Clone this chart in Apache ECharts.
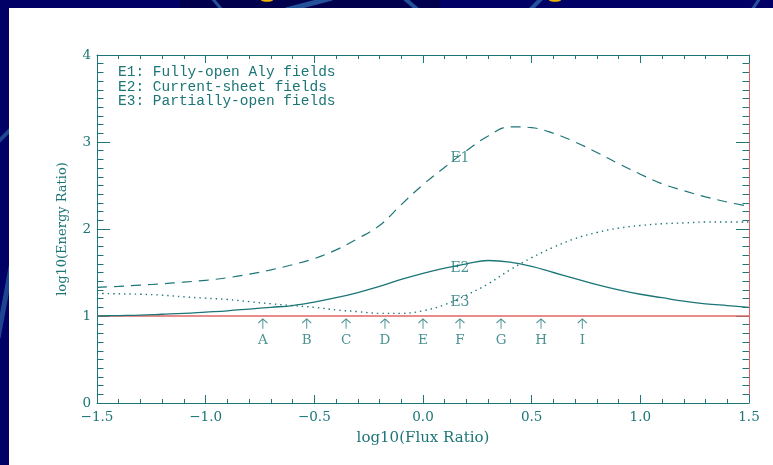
<!DOCTYPE html>
<html>
<head>
<meta charset="utf-8">
<script src="https://cdn.jsdelivr.net/npm/echarts@6/dist/echarts.min.js"></script>
<style>
  html, body { margin: 0; padding: 0; background: #000066; }
  #chart { width: 773px; height: 465px; }
</style>
</head>
<body>
<div id="chart"></div>
<script>
// log10(Flux Ratio) sample points
const fluxLog = [-1.5, -1.4, -1.3, -1.2, -1.1, -1.0, -0.9, -0.8, -0.7, -0.6, -0.5, -0.4, -0.3, -0.2, -0.1,
                 0.0, 0.1, 0.2, 0.3, 0.4, 0.5, 0.6, 0.7, 0.8, 0.9, 1.0, 1.1, 1.2, 1.3, 1.4, 1.5];

// log10(Energy Ratio) for the three field configurations
const energyE1 = [1.33, 1.34, 1.355, 1.37, 1.39, 1.41, 1.44, 1.48, 1.53, 1.59, 1.66, 1.76, 1.89, 2.04, 2.28,
                  2.51, 2.71, 2.90, 3.07, 3.175, 3.165, 3.10, 3.00, 2.88, 2.75, 2.63, 2.52, 2.44, 2.37, 2.31, 2.26];
const energyE2 = [1.00, 1.005, 1.01, 1.02, 1.03, 1.045, 1.06, 1.08, 1.10, 1.12, 1.16, 1.21, 1.27, 1.34, 1.42,
                  1.49, 1.55, 1.60, 1.638, 1.62, 1.57, 1.50, 1.43, 1.36, 1.30, 1.25, 1.21, 1.17, 1.14, 1.12, 1.10];
const energyE3 = [1.26, 1.255, 1.25, 1.24, 1.22, 1.205, 1.19, 1.165, 1.14, 1.12, 1.10, 1.07, 1.05, 1.03, 1.03,
                  1.06, 1.13, 1.24, 1.37, 1.53, 1.67, 1.79, 1.89, 1.96, 2.01, 2.04, 2.06, 2.07, 2.08, 2.08, 2.08];

// reference level log10(Energy Ratio) = 1
const unityLevel = 1;

// curve tags placed beside each curve
const curveTags = ['E1', 'E2', 'E3'];
const curveTagX = [0.17, 0.17, 0.17];
const curveTagY = [2.81, 1.55, 1.16];

// marked flux ratios A..I
const markLetters = ['A', 'B', 'C', 'D', 'E', 'F', 'G', 'H', 'I'];
const markX = [-0.737, -0.535, -0.354, -0.175, 0.0, 0.17, 0.359, 0.543, 0.733];
const arrowY = 0.91;
const letterY = 0.72;

// legend text
const legendLines = ['E1: Fully-open Aly fields', 'E2: Current-sheet fields', 'E3: Partially-open fields'];

// axis ranges and ticks
const xMin = -1.5, xMax = 1.5, xStep = 0.5;
const yMin = 0, yMax = 4, yStep = 1;

const TEAL = '#1c7577';
const RED = '#e06464';
const SERIF = 'DejaVu Serif';

const pairs = ys => fluxLog.map((x, i) => [x, ys[i]]);
const minus = v => String(v).replace('-', '\u2212');
const fmtX = v => minus((Math.round(v * 10) / 10).toFixed(1));

const chart = echarts.init(document.getElementById('chart'), null, { renderer: 'canvas' });

const baseAxisX = {
  type: 'value', min: xMin, max: xMax, interval: xStep,
  axisLine: { show: true, onZero: false, lineStyle: { color: TEAL, width: 1 } },
  axisTick: { show: true, inside: true, length: 8, lineStyle: { color: TEAL, width: 1 } },
  minorTick: { show: true, splitNumber: 5, length: 4, lineStyle: { color: TEAL, width: 1 } },
  splitLine: { show: false }
};
const baseAxisY = {
  type: 'value', min: yMin, max: yMax, interval: yStep,
  axisLine: { show: true, onZero: false, lineStyle: { color: TEAL, width: 1 } },
  axisTick: { show: true, inside: true, length: 13, lineStyle: { color: TEAL, width: 1 } },
  minorTick: { show: true, splitNumber: 10, length: 6.5, lineStyle: { color: TEAL, width: 1 } },
  splitLine: { show: false }
};

const option = {
  animation: false,
  backgroundColor: 'transparent',
  grid: { left: 97, top: 55, width: 652, height: 348, containLabel: false },
  graphic: [
    // slide backdrop
    { type: 'rect', z: -10, shape: { x: 0, y: 0, width: 773, height: 465 }, style: { fill: '#000066' } },
    { type: 'rect', z: -10, shape: { x: 180, y: 0, width: 260, height: 8 }, style: { fill: '#00004c' } },
    { type: 'line', z: -9, shape: { x1: 212, y1: -2, x2: 222, y2: 10 }, style: { stroke: '#24529a', lineWidth: 3 } },
    { type: 'line', z: -9, shape: { x1: 286, y1: 10, x2: 332, y2: -2 }, style: { stroke: '#24529a', lineWidth: 5 } },
    { type: 'line', z: -9, shape: { x1: 404, y1: -2, x2: 418, y2: 10 }, style: { stroke: '#24529a', lineWidth: 4 } },
    { type: 'line', z: -9, shape: { x1: 530, y1: 10, x2: 542, y2: -2 }, style: { stroke: '#24529a', lineWidth: 4 } },
    { type: 'line', z: -9, shape: { x1: 752, y1: 10, x2: 760, y2: -2 }, style: { stroke: '#24529a', lineWidth: 3 } },
    { type: 'line', z: -9, shape: { x1: -2, y1: 142, x2: 12, y2: 128 }, style: { stroke: '#1d4590', lineWidth: 4 } },
    { type: 'line', z: -9, shape: { x1: 12, y1: 262, x2: -2, y2: 338 }, style: { stroke: '#1d4590', lineWidth: 5 } },
    { type: 'ellipse', z: -9, shape: { cx: 267, cy: 0, rx: 6, ry: 1.8 }, style: { fill: '#e8b400' } },
    { type: 'ellipse', z: -9, shape: { cx: 555, cy: 0, rx: 6, ry: 1.8 }, style: { fill: '#e8b400' } },
    // white panel
    { type: 'rect', z: -8, shape: { x: 9, y: 8, width: 764, height: 457 }, style: { fill: '#ffffff' } },
    // legend text
    ...legendLines.map((t, i) => ({
      type: 'text', z: 10, left: 118, top: 65 + i * 14.2,
      style: { text: t, fill: TEAL, font: '14.5px "Liberation Mono", monospace' }
    }))
  ],
  xAxis: [
    Object.assign({}, baseAxisX, {
      position: 'bottom',
      name: 'log10(Flux Ratio)', nameLocation: 'middle', nameGap: 28,
      nameTextStyle: { color: TEAL, fontFamily: SERIF, fontSize: 15 },
      axisLabel: { show: true, margin: 7, color: TEAL, fontFamily: SERIF, fontSize: 13.5, formatter: fmtX }
    }),
    Object.assign({}, baseAxisX, { position: 'top', axisLabel: { show: false } })
  ],
  yAxis: [
    Object.assign({}, baseAxisY, {
      position: 'left',
      name: 'log10(Energy Ratio)', nameLocation: 'middle', nameGap: 28, nameRotate: 90,
      nameTextStyle: { color: TEAL, fontFamily: SERIF, fontSize: 13 },
      axisLabel: { show: true, margin: 6, color: TEAL, fontFamily: SERIF, fontSize: 13.5 }
    }),
    Object.assign({}, baseAxisY, {
      position: 'right', axisLabel: { show: false },
      axisLine: { show: true, onZero: false, lineStyle: { color: RED, width: 1 } }
    })
  ],
  series: [
    {
      name: 'unity', type: 'line', data: [[xMin, unityLevel], [xMax, unityLevel]],
      symbol: 'none', lineStyle: { color: RED, width: 1.3 }, z: 3
    },
    {
      name: 'E1', type: 'line', data: pairs(energyE1), smooth: 0.4, symbol: 'none',
      lineStyle: { color: TEAL, width: 1.2, type: [10, 7] }, z: 4
    },
    {
      name: 'E2', type: 'line', data: pairs(energyE2), smooth: 0.4, symbol: 'none',
      lineStyle: { color: TEAL, width: 1.3 }, z: 4
    },
    {
      name: 'E3', type: 'line', data: pairs(energyE3), smooth: 0.4, symbol: 'none',
      lineStyle: { color: TEAL, width: 1.4, type: [1.4, 4] }, z: 4
    },
    {
      name: 'tags', type: 'scatter', symbolSize: 0, z: 6,
      data: curveTags.map((t, i) => ({ name: t, value: [curveTagX[i], curveTagY[i]] })),
      label: { show: true, position: 'inside', formatter: '{b}', color: TEAL, fontFamily: SERIF, fontSize: 14 }
    },
    {
      name: 'arrows', type: 'scatter', z: 6,
      symbol: 'path://M5,12 L5,0 M0,5 L5,0 L10,5', symbolSize: [9, 10],
      itemStyle: { color: 'none', borderColor: TEAL, borderWidth: 1 },
      data: markX.map(x => [x, arrowY])
    },
    {
      name: 'letters', type: 'scatter', symbolSize: 0, z: 6,
      data: markLetters.map((t, i) => ({ name: t, value: [markX[i], letterY] })),
      label: { show: true, position: 'inside', formatter: '{b}', color: TEAL, fontFamily: SERIF, fontSize: 13.5 }
    }
  ]
};

chart.setOption(option);
</script>
</body>
</html>
